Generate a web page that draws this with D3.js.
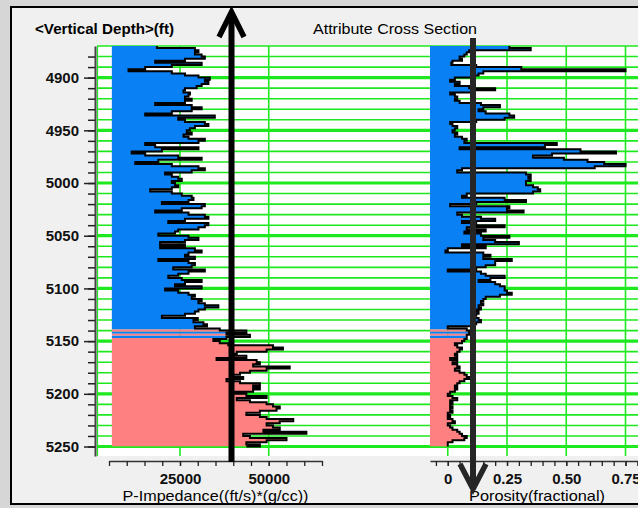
<!DOCTYPE html>
<html>
<head>
<meta charset="utf-8">
<script src="https://cdn.jsdelivr.net/npm/d3@7"></script>
<style>
  html, body { margin: 0; padding: 0; background: #d6d6d6; }
  svg { display: block; font-family: "Liberation Sans", Arial, sans-serif; }
</style>
</head>
<body>
<div id="root"></div>
<script>
// depth samples every 2 ft from 4870 to 5250
const depths = d3.range(4870, 5251, 2);

// P-Impedance ((ft/s)*(g/cc)), one value per depth sample
const impedance = [
  18500, 29200, 30200, 29200, 31100, 32000, 26400, 18000, 31100, 22700,
  15200, 10500, 22700, 26400, 30200, 33400, 32000, 33000, 31100, 29700,
  26400, 26000, 27800, 27400, 26400, 28300, 26400, 18000, 28300, 31100,
  28300, 22700, 15200, 34800, 24500, 26400, 32000, 33000, 29200, 27800,
  26900, 28300, 26000, 27400, 32000, 30200, 15200, 18000, 30200, 19900,
  11400, 15200, 24500, 31100, 18900, 12400, 22700, 30200, 32000, 28300,
  20800, 22700, 24500, 25500, 22700, 23600, 24500, 22700, 16600, 22700,
  25500, 28300, 28800, 27400, 19900, 32000, 31100, 25500, 18000, 27400,
  32000, 33000, 26400, 21700, 33000, 32000, 30200, 24500, 23600, 18900,
  27400, 30200, 26400, 19400, 26400, 19400, 29200, 31100, 27400, 26400,
  29200, 18900, 27400, 29200, 28300, 23100, 32000, 27400, 24500, 21700,
  25500, 31100, 26400, 23600, 31100, 20800, 24500, 27400, 29200, 28300,
  31100, 30200, 32000, 35800, 32000, 30200, 29200, 26400, 19900, 30000,
  28800, 31600, 32600, 29200, 36200, 43700, 38100, 44700, 38100, 34400,
  36200, 38600, 51200, 54000, 49400, 41000, 39100, 43700, 35300, 46600,
  47500, 45600, 55900, 49400, 44700, 41900, 40000, 42800, 38100, 41900,
  47500, 45600, 47500, 45600, 40000, 43700, 49400, 41000, 44700, 49400,
  51200, 53100, 52200, 47500, 43700, 47500, 49400, 56900, 53100, 49400,
  51200, 53100, 48500, 60600, 42800, 44700, 55000, 49400, 43700, 47500,
  43700
];

// Porosity (fractional), one value per depth sample
const porosity = [
  0.26, 0.35, 0.09, 0.08, 0.07, 0.05, 0.06, 0.02, 0.015, 0.12,
  0.31, 0.75, 0.15, 0.13, 0.11, 0.03, 0.01, 0.05, 0.03, 0.09,
  0.20, 0.10, 0.01, 0.03, 0.04, 0.03, 0.05, 0.14, 0.22, 0.15,
  0.13, 0.16, 0.26, 0.28, 0.24, 0.12, 0.01, 0.02, 0.04, 0.03,
  0.02, 0.04, 0.03, 0.06, 0.08, 0.07, 0.46, 0.41, 0.05, 0.56,
  0.71, 0.44, 0.36, 0.49, 0.59, 0.66, 0.75, 0.62, 0.06, 0.04,
  0.33, 0.35, 0.34, 0.35, 0.33, 0.33, 0.36, 0.38, 0.39, 0.36,
  0.08, 0.06, 0.24, 0.33, 0.12, 0.01, 0.26, 0.25, 0.32, 0.04,
  0.06, 0.14, 0.20, 0.06, 0.12, 0.24, 0.08, 0.16, 0.07, 0.14,
  0.26, 0.15, 0.20, 0.30, 0.06, 0.16, 0.00, -0.01, 0.15, 0.18,
  0.15, 0.27, 0.20, 0.20, 0.16, 0.12, 0.00, 0.14, 0.16, 0.24,
  0.18, 0.13, 0.20, 0.22, 0.24, 0.24, 0.25, 0.27, 0.22, 0.16,
  0.15, 0.14, 0.15, 0.13, 0.14, 0.12, 0.13, 0.12, 0.11, 0.13,
  0.14, 0.12, 0.10, 0.00, 0.08, 0.09, 0.09, 0.08, 0.08, 0.07,
  0.06, 0.03, 0.04, 0.06, 0.05, 0.04, 0.03, 0.04, 0.01, 0.04,
  0.02, 0.04, 0.05, 0.03, 0.05, 0.07, 0.08, 0.09, 0.07, 0.05,
  0.04, 0.03, 0.04, 0.03, 0.01, 0.00, 0.02, 0.04, 0.01, 0.02,
  0.01, 0.02, 0.01, 0.02, 0.00, 0.01, 0.00, 0.02, 0.03, 0.00,
  0.01, 0.02, 0.04, 0.05, 0.06, 0.08, 0.07, 0.02, 0.00, 0.00,
  0.00
];

// zone tops (ft) and facies code of each zone (0 = upper unit, 1 = lower unit)
const zoneTops = [4870, 5139, 5141, 5143, 5145, 5147];
const zoneFacies = [0, 1, 0, 1, 0, 1];

const depthLabels = [4900, 4950, 5000, 5050, 5100, 5150, 5200, 5250];
const impLabels = [25000, 50000];
const porLabels = [0, 0.25, 0.5, 0.75];

const W = 638, H = 508;
const faciesColor = ["#0a80f5", "#ff8080"];
const green = "#1ee81e";

const svg = d3.select("#root").append("svg")
  .attr("width", W).attr("height", H);

// window frame
svg.append("rect").attr("width", W).attr("height", H).attr("fill", "#d6d6d6");
svg.append("rect")
  .attr("x", 11).attr("y", 7).attr("width", W + 10).attr("height", 497)
  .attr("fill", "#f0f0f0").attr("stroke", "#000").attr("stroke-width", 2);

// headers
svg.append("text").text("<Vertical Depth>(ft)")
  .attr("x", 35).attr("y", 34)
  .attr("font-size", 15).attr("font-weight", "bold")
  .attr("textLength", 139).attr("lengthAdjust", "spacingAndGlyphs");
svg.append("text").text("Attribute Cross Section")
  .attr("x", 313).attr("y", 34).attr("font-size", 15)
  .attr("textLength", 164).attr("lengthAdjust", "spacingAndGlyphs");

// scales
const y = d3.scaleLinear().domain([4870, 5259]).range([46, 456]);
const xImp = d3.scaleLinear().domain([5000, 65000]).range([109, 322]);
const xPor = d3.scaleLinear().domain([-0.075, 0.85]).range([430, 649.2]);
const impBase = 5800, porBase = -0.075;

// plot area
svg.append("rect")
  .attr("x", 97).attr("y", y(4870)).attr("width", W - 97)
  .attr("height", y(5259) - y(4870)).attr("fill", "#fff");

const grid = svg.append("g");
grid.selectAll("line.h")
  .data(d3.range(4870, 5251, 10))
  .join("line")
  .attr("x1", 97).attr("x2", W)
  .attr("y1", d => y(d)).attr("y2", d => y(d))
  .attr("stroke", green)
  .attr("stroke-width", d => d % 50 === 0 ? 3.2 : 1.6);
grid.selectAll("line.vi")
  .data(impLabels)
  .join("line")
  .attr("x1", d => xImp(d)).attr("x2", d => xImp(d))
  .attr("y1", y(4870)).attr("y2", y(5259))
  .attr("stroke", green).attr("stroke-width", 1.6);
grid.append("g").selectAll("line")
  .data(porLabels)
  .join("line")
  .attr("x1", d => xPor(d)).attr("x2", d => xPor(d))
  .attr("y1", y(4870)).attr("y2", y(5259))
  .attr("stroke", green).attr("stroke-width", 1.6);
grid.append("line")
  .attr("x1", 97.5).attr("x2", 97.5).attr("y1", y(4870)).attr("y2", y(5259))
  .attr("stroke", green).attr("stroke-width", 1.2);

const impData = depths.map((d, i) => ({ depth: d, v: impedance[i] }));
const porData = depths.map((d, i) => ({ depth: d, v: porosity[i] }));

// clip bands for zones
const defs = svg.append("defs");
zoneTops.forEach((top, i) => {
  const bottom = i < zoneTops.length - 1 ? zoneTops[i + 1] : 5250;
  defs.append("clipPath").attr("id", "zone" + i)
    .append("rect")
    .attr("x", 0).attr("width", W)
    .attr("y", y(top)).attr("height", y(bottom) - y(top));
});

function drawTrack(data, x, base) {
  const area = d3.area()
    .curve(d3.curveStepBefore)
    .y(d => y(d.depth))
    .x0(x(base))
    .x1(d => x(d.v));
  const line = d3.line()
    .curve(d3.curveStepBefore)
    .x(d => x(d.v))
    .y(d => y(d.depth));
  const g = svg.append("g");
  zoneTops.forEach((top, i) => {
    g.append("path")
      .datum(data)
      .attr("clip-path", "url(#zone" + i + ")")
      .attr("d", area)
      .attr("fill", faciesColor[zoneFacies[i]]);
  });
  g.append("path")
    .datum(data)
    .attr("d", line)
    .attr("fill", "none")
    .attr("stroke", "#000")
    .attr("stroke-width", 2)
    .attr("stroke-linejoin", "miter");
}
drawTrack(impData, xImp, impBase);
drawTrack(porData, xPor, porBase);

// depth axis
const yMinor = svg.append("g")
  .attr("transform", "translate(95,0)")
  .call(d3.axisLeft(y).tickValues(d3.range(4880, 5251, 10)).tickSize(7).tickSizeOuter(0).tickFormat(""));
yMinor.select(".domain").attr("stroke", "#444").attr("stroke-width", 2);
yMinor.selectAll(".tick line").attr("stroke", "#222").attr("stroke-width", 1.5);
const yMajor = svg.append("g")
  .attr("transform", "translate(95,0)")
  .call(d3.axisLeft(y).tickValues(depthLabels).tickSize(11).tickPadding(5).tickFormat(d3.format("d")));
yMajor.select(".domain").remove();
yMajor.selectAll(".tick line").attr("stroke", "#222").attr("stroke-width", 1.5);
yMajor.selectAll("text")
  .attr("font-size", 15).attr("font-weight", "bold").attr("fill", "#111")
  .attr("font-family", "Liberation Sans, Arial, sans-serif");

// bottom axes
function bottomAxis(x, minorVals, labels, fmt) {
  const g = svg.append("g").attr("transform", "translate(0,461)");
  g.call(d3.axisBottom(x).tickValues(minorVals).tickSize(5).tickSizeOuter(0).tickFormat(""));
  g.select(".domain").attr("stroke", "#333").attr("stroke-width", 1.5);
  g.selectAll(".tick line").attr("stroke", "#222").attr("stroke-width", 1.3);
  const m = svg.append("g").attr("transform", "translate(0,461)");
  m.call(d3.axisBottom(x).tickValues(labels).tickSize(5).tickPadding(7).tickFormat(fmt));
  m.select(".domain").remove();
  m.selectAll(".tick line").attr("stroke", "#222").attr("stroke-width", 1.3);
  m.selectAll("text")
    .attr("font-size", 15).attr("font-weight", "bold").attr("fill", "#111")
    .attr("font-family", "Liberation Sans, Arial, sans-serif");
}
bottomAxis(xImp, d3.range(5000, 65001, 5000), impLabels, d3.format("d"));
bottomAxis(xPor, d3.range(-1, 18).map(k => k * 0.05), porLabels,
  d => d === 0 ? "0" : d3.format(".2f")(d));

svg.append("text").text("P-Impedance((ft/s)*(g/cc))")
  .attr("x", (xImp.range()[0] + xImp.range()[1]) / 2).attr("y", 501)
  .attr("text-anchor", "middle").attr("font-size", 15)
  .attr("textLength", 186).attr("lengthAdjust", "spacingAndGlyphs");
svg.append("text").text("Porosity(fractional)")
  .attr("x", 537).attr("y", 501)
  .attr("text-anchor", "middle").attr("font-size", 15)
  .attr("textLength", 136).attr("lengthAdjust", "spacingAndGlyphs");

// annotation arrows
svg.append("line")
  .attr("x1", 231.5).attr("x2", 231.5).attr("y1", 14).attr("y2", 462)
  .attr("stroke", "#000").attr("stroke-width", 6);
svg.append("polyline")
  .attr("points", "219,37 231.5,12 244,37")
  .attr("fill", "none").attr("stroke", "#000").attr("stroke-width", 5.5);
svg.append("line")
  .attr("x1", 473).attr("x2", 473).attr("y1", 38).attr("y2", 487)
  .attr("stroke", "#262626").attr("stroke-width", 6);
svg.append("polyline")
  .attr("points", "460,464 473,489 486,464")
  .attr("fill", "none").attr("stroke", "#262626").attr("stroke-width", 5.5);
</script>
</body>
</html>
